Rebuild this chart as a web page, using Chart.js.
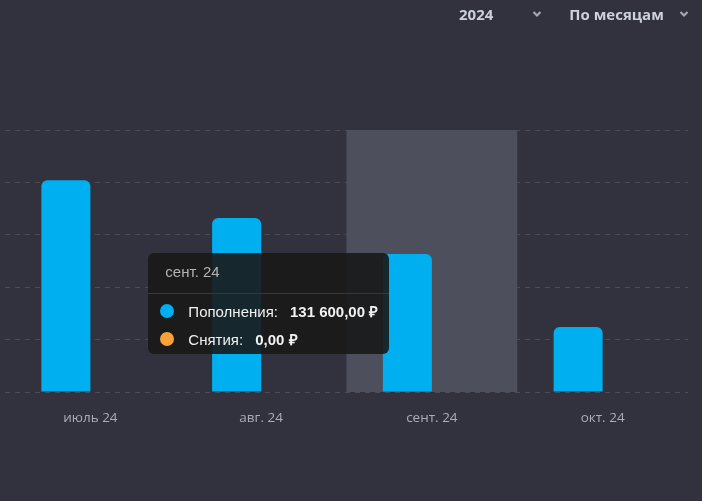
<!DOCTYPE html>
<html lang="ru">
<head>
<meta charset="utf-8">
<title>Пополнения и снятия</title>
<script src="https://cdn.jsdelivr.net/npm/chart.js@4.4.1/dist/chart.umd.min.js"></script>
<style>
  html, body {
    margin: 0;
    padding: 0;
    background: #32323e;
    width: 702px;
    height: 501px;
    overflow: hidden;
    font-family: "Open Sans", "Liberation Sans", sans-serif;
  }
  #wrap {
    position: relative;
    width: 702px;
    height: 501px;
  }
  #chart {
    position: absolute;
    left: 0;
    top: 0;
  }
  .filters {
    position: absolute;
    top: 4px;
    left: 459px;
    display: flex;
    align-items: center;
    color: #cdd1dc;
    font-weight: 700;
    font-size: 15px;
  }
  .filter {
    display: flex;
    align-items: center;
  }
  .tip {
    position: absolute;
    pointer-events: none;
    background: rgba(24, 24, 24, 0.9);
    border-radius: 6px;
    font-family: "Liberation Sans", Arial, sans-serif;
    font-size: 15px;
    color: #f2f2f2;
    white-space: nowrap;
  }
  .tip-title {
    color: #b4b4b4;
    padding: 10px 17px 12px 17px;
    line-height: 18px;
    border-bottom: 1px solid #383838;
  }
  .tip-body {
    padding: 3px 11px 1px 12px;
  }
  .tip-row {
    display: flex;
    align-items: center;
    height: 28px;
  }
  .tip-dot {
    width: 14px;
    height: 14px;
    border-radius: 50%;
    margin-right: 14px;
  }
  .tip-val {
    font-weight: 700;
    margin-left: 12px;
  }
</style>
</head>
<body>
<div id="wrap">
  <canvas id="chart" width="702" height="501"></canvas>
  <div class="filters">
    <div class="filter">2024
      <svg width="10" height="8" viewBox="0 0 10 8" style="margin-left:39px"><polyline points="1.5,2 5,5.5 8.5,2" fill="none" stroke="#a3a7b3" stroke-width="2.2"/></svg>
    </div>
    <div class="filter" style="margin-left:27px">По месяцам
      <svg width="10" height="8" viewBox="0 0 10 8" style="margin-left:15px"><polyline points="1.5,2 5,5.5 8.5,2" fill="none" stroke="#a3a7b3" stroke-width="2.2"/></svg>
    </div>
  </div>
  <div id="tip" class="tip" style="display:none"></div>
</div>

<script>
// Chart data / данные графика
const months = ['июль 24', 'авг. 24', 'сент. 24', 'окт. 24'];
const deposits = [202000, 166000, 131600, 62000];
const withdrawals = [0, 0, 0, 0];
const seriesNames = ['Пополнения', 'Снятия'];
const seriesColors = ['#00aff0', '#fba13a'];
const yTicks = [0, 50000, 100000, 150000, 200000, 250000];
const activeMonth = 2;

/**
 * Format money as "131 600,00 ₽"
 */
function formatMoney(value) {
    return value.toLocaleString('ru-RU', {
        minimumFractionDigits: 2,
        maximumFractionDigits: 2
    }) + ' ₽';
}

// Highlight column behind active month
const hoverColumn = {
    id: 'hoverColumn',
    beforeDatasetsDraw(chart) {
        const active = chart.getActiveElements();
        if (!active.length) return;
        const x = chart.scales.x;
        const area = chart.chartArea;
        const idx = active[0].index;
        const step = (x.right - x.left) / months.length;
        const ctx = chart.ctx;
        ctx.save();
        ctx.fillStyle = '#4d4f5c';
        ctx.fillRect(x.left + step * idx, area.top, step, area.bottom - area.top);
        ctx.restore();
    }
};

// External html tooltip
function externalTooltip(context) {
    const tip = document.getElementById('tip');
    const model = context.tooltip;
    if (model.opacity === 0) {
        tip.style.display = 'none';
        return;
    }
    const rows = model.dataPoints.map(dp => `
        <div class="tip-row">
            <div class="tip-dot" style="background:${seriesColors[dp.datasetIndex]}"></div>
            <span>${seriesNames[dp.datasetIndex]}:</span>
            <span class="tip-val">${formatMoney(dp.raw)}</span>
        </div>
    `).join('');
    tip.innerHTML = `
        <div class="tip-title">${model.title[0]}</div>
        <div class="tip-body">${rows}</div>
    `;
    tip.style.display = 'block';
    const bar = model.dataPoints[0].element;
    tip.style.left = (bar.x - 18 - tip.offsetWidth) + 'px';
    tip.style.top = (bar.y - 1) + 'px';
}

const chart = new Chart(document.getElementById('chart'), {
    type: 'bar',
    data: {
        labels: months,
        datasets: [{
            label: seriesNames[0],
            data: deposits,
            backgroundColor: seriesColors[0],
            hoverBackgroundColor: seriesColors[0],
            borderRadius: 6,
            categoryPercentage: 0.574,
            barPercentage: 1
        }, {
            label: seriesNames[1],
            data: withdrawals,
            backgroundColor: seriesColors[1],
            hoverBackgroundColor: seriesColors[1],
            borderRadius: 6,
            categoryPercentage: 0.574,
            barPercentage: 1
        }]
    },
    options: {
        responsive: false,
        animation: false,
        layout: {
            padding: { left: 5, right: 14, top: 130, bottom: 59 }
        },
        interaction: { mode: 'index', intersect: false },
        plugins: {
            legend: { display: false },
            tooltip: {
                enabled: false,
                external: externalTooltip
            }
        },
        scales: {
            x: {
                grid: { display: false },
                border: { display: false },
                ticks: {
                    padding: 10,
                    color: '#a9adb9',
                    font: { family: "'Open Sans', sans-serif", size: 13.5 }
                },
                afterFit(scale) { scale.height = 50; }
            },
            y: {
                min: yTicks[0],
                max: yTicks[yTicks.length - 1],
                afterBuildTicks(scale) {
                    scale.ticks = yTicks.map(v => ({ value: v }));
                },
                ticks: { display: false },
                grid: { color: '#4a4c58', lineWidth: 1, drawTicks: false },
                border: { display: false, dash: [5, 5] },
                afterFit(scale) { scale.width = 0; }
            }
        }
    },
    plugins: [hoverColumn]
});

// Show hover state for сент. 24
const activeEls = [
    { datasetIndex: 0, index: activeMonth },
    { datasetIndex: 1, index: activeMonth }
];
chart.setActiveElements(activeEls);
chart.tooltip.setActiveElements(activeEls, { x: 0, y: 0 });
chart.update();
</script>
</body>
</html>
